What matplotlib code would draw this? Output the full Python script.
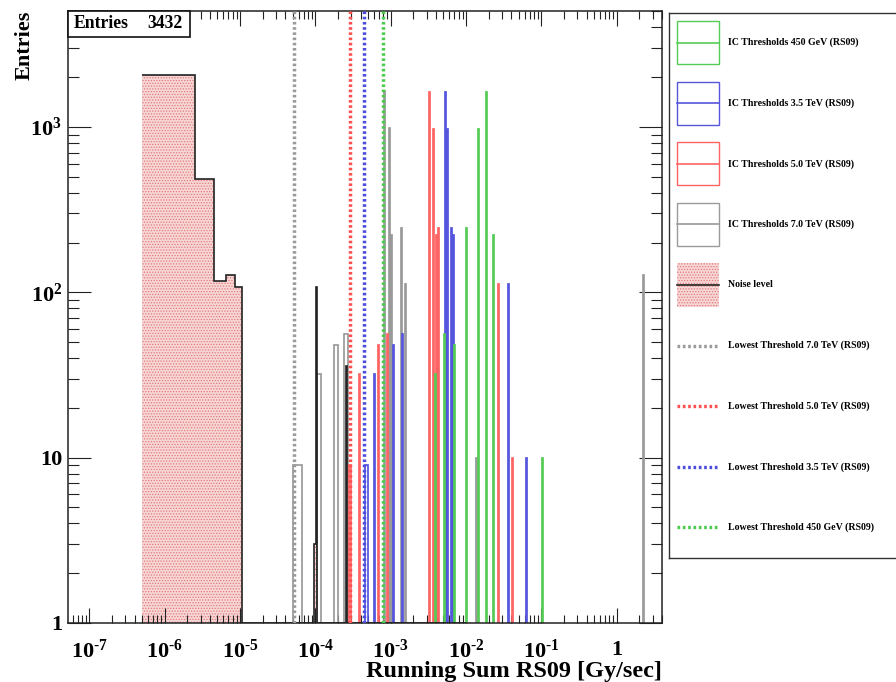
import numpy as np
import matplotlib
matplotlib.use("Agg")
import matplotlib.pyplot as plt
from matplotlib.patches import Rectangle
from matplotlib.ticker import FixedLocator, FixedFormatter, LogLocator, NullFormatter

plt.rcParams['font.family'] = ['Liberation Serif', 'DejaVu Serif']
plt.rcParams['font.weight'] = 'bold'
plt.rcParams['mathtext.fontset'] = 'custom'
plt.rcParams['mathtext.rm'] = 'Liberation Serif:bold'
plt.rcParams['mathtext.it'] = 'Liberation Serif:bold:italic'
plt.rcParams['mathtext.bf'] = 'Liberation Serif:bold'
plt.rcParams['hatch.linewidth'] = 0.6

# ---------------- data ----------------
# noise level histogram (bin low edge, bin high edge, entries)
noise_lo = [5.0e-7, 2.5e-6, 4.5e-6, 6.5e-6, 8.5e-6, 9.7e-5, 1.03e-4, 2.52e-4]
noise_hi = [2.5e-6, 4.5e-6, 6.5e-6, 8.5e-6, 1.05e-5, 1.03e-4, 1.05e-4, 2.62e-4]
noise_n = [2050, 483, 117, 127, 107, 3, 108, 36]
noise_xmax = 1.0e-2
noise_entries = 3432

# IC threshold histograms
ic450_lo = [3.828e-3, 5.165e-3, 6.950e-3, 1.012e-2, 1.439e-2, 1.861e-2, 2.305e-2, 0.1031]
ic450_hi = [3.947e-3, 5.326e-3, 7.165e-3, 1.044e-2, 1.484e-2, 1.918e-2, 2.375e-2, 0.1063]
ic450_n = [32, 56, 48, 246, 970, 1620, 222, 10]

ic35_lo = [4.571e-4, 6.017e-4, 1.083e-3, 1.404e-3, 5.326e-3, 5.662e-3, 6.282e-3, 6.637e-3,
           3.600e-2, 6.322e-2]
ic35_hi = [4.933e-4, 6.204e-4, 1.116e-3, 1.448e-3, 5.492e-3, 5.838e-3, 6.478e-3, 6.843e-3,
           3.712e-2, 6.518e-2]
ic35_n = [9, 32, 48, 56, 1620, 970, 246, 222, 112, 10]

ic50_lo = [2.760e-4, 3.805e-4, 6.823e-4, 9.011e-4, 3.265e-3, 3.634e-3, 4.020e-3, 4.196e-3,
           2.652e-2, 4.118e-2]
ic50_hi = [2.979e-4, 3.923e-4, 7.035e-4, 9.292e-4, 3.366e-3, 3.747e-3, 4.145e-3, 4.326e-3,
           2.734e-2, 4.246e-2]
ic50_n = [9, 32, 48, 56, 1620, 970, 222, 246, 112, 10]

ic70_lo = [5.1e-5, 1.06e-4, 1.78e-4, 2.42e-4, 8.123e-4, 9.436e-4, 1.019e-3, 1.353e-3,
           1.553e-3, 1.370e-2, 2.262]
ic70_hi = [6.6e-5, 1.20e-4, 2.00e-4, 2.69e-4, 8.375e-4, 9.727e-4, 1.050e-3, 1.395e-3,
           1.601e-3, 1.413e-2, 2.333]
ic70_n = [9, 32, 48, 56, 1640, 985, 222, 246, 112, 10, 127]

# lowest thresholds [Gy/sec]
lowest_thr = [5.15e-5, 2.84e-4, 4.42e-4, 7.85e-4]

x_ticks = [1e-7, 1e-6, 1e-5, 1e-4, 1e-3, 1e-2, 1e-1, 1]
x_tick_labels = [r'$10^{\text{-}7}$', r'$10^{\text{-}6}$', r'$10^{\text{-}5}$',
                 r'$10^{\text{-}4}$', r'$10^{\text{-}3}$', r'$10^{\text{-}2}$',
                 r'$10^{\text{-}1}$', '1']
y_ticks = [1, 10, 100, 1000]
y_tick_labels = ['1', '10', '$10^{2}$', '$10^{3}$']

legend_labels = ['IC Thresholds 450 GeV (RS09)', 'IC Thresholds 3.5 TeV (RS09)',
                 'IC Thresholds 5.0 TeV (RS09)', 'IC Thresholds 7.0 TeV (RS09)',
                 'Noise level',
                 'Lowest Threshold 7.0 TeV (RS09)', 'Lowest Threshold 5.0 TeV (RS09)',
                 'Lowest Threshold 3.5 TeV (RS09)', 'Lowest Threshold 450 GeV (RS09)']

# ---------------- style ----------------
C_GREEN = '#55cc55'
C_BLUE = '#5555dd'
C_RED = '#ff6464'
C_GRAY = '#9a9a9a'
C_FILL = '#f7d6d6'
C_HATCH = '#e27a7a'


def outline(lo, hi, n):
    """Step outline of separate bins, with empty bins between them."""
    order = np.argsort(lo)
    edges = [lo[order[0]]]
    vals = []
    for k, i in enumerate(order):
        if k > 0 and lo[i] > edges[-1]:
            vals.append(0)
            edges.append(lo[i])
        vals.append(n[i])
        edges.append(hi[i])
    return np.array(vals, float), np.array(edges, float)


W, H = 896, 682
fig = plt.figure(figsize=(W / 100, H / 100), dpi=100)
ax = fig.add_axes([68 / W, (H - 623) / H, 594 / W, 612 / H])
ax.set_xscale('log')
ax.set_yscale('log', nonpositive='clip')
YMIN, YMAX = 1, 5030

# noise level: hatched fill + black outline
nv, ne = outline(noise_lo, noise_hi, noise_n)
ax.stairs(nv, ne, baseline=YMIN, fill=True, facecolor=C_FILL, edgecolor=C_HATCH,
          hatch='......', linewidth=0, zorder=1)
nv_line = np.append(nv, 0)
ne_line = np.append(ne, noise_xmax)
ax.stairs(np.maximum(nv_line, YMIN), ne_line, baseline=None, color='#222222',
          linewidth=1.2, zorder=2.2)

# IC threshold histograms
for lo, hi, n, c in [(ic70_lo, ic70_hi, ic70_n, C_GRAY),
                     (ic50_lo, ic50_hi, ic50_n, C_RED),
                     (ic35_lo, ic35_hi, ic35_n, C_BLUE),
                     (ic450_lo, ic450_hi, ic450_n, C_GREEN)]:
    v, e = outline(lo, hi, n)
    ax.stairs(v, e, baseline=0, color=c, linewidth=1.25, zorder=2)

# lowest thresholds
for x, c in zip(lowest_thr, [C_GRAY, '#ff5050', '#4c4cdd', '#4ccc4c']):
    ax.axvline(x, color=c, linewidth=2.5, dashes=(0.75, 0.75), zorder=3)

ax.set_xlim(5.2e-8, 4.0)
ax.set_ylim(YMIN, YMAX)

ax.xaxis.set_major_locator(FixedLocator(x_ticks))
ax.xaxis.set_major_formatter(FixedFormatter(x_tick_labels))
ax.xaxis.set_minor_locator(LogLocator(base=10, subs=np.arange(2, 10), numticks=100))
ax.xaxis.set_minor_formatter(NullFormatter())
ax.yaxis.set_major_locator(FixedLocator(y_ticks))
ax.yaxis.set_major_formatter(FixedFormatter(y_tick_labels))
ax.yaxis.set_minor_locator(LogLocator(base=10, subs=np.arange(2, 10), numticks=100))
ax.yaxis.set_minor_formatter(NullFormatter())

ax.tick_params(which='both', direction='in', top=True, right=True, width=0.8, color='#222222')
ax.tick_params(axis='x', which='major', length=10.8, pad=12, labelsize=16)
ax.tick_params(axis='x', which='minor', length=5.8)
ax.tick_params(axis='y', which='major', length=16.3, pad=4.3, labelsize=16)
ax.tick_params(axis='y', which='minor', length=7.9)
for s in ax.spines.values():
    s.set_linewidth(1.1)
    s.set_color('#222222')

ax.set_xlabel('Running Sum RS09 [Gy/sec]', loc='right', fontsize=17.5, fontweight='bold')
ax.xaxis.set_label_coords(1.0, -0.062)
ax.set_ylabel('Entries', loc='top', fontsize=16, fontweight='bold')
ax.yaxis.set_label_coords(-0.056, 1.0)

# statistics box
ax.add_patch(Rectangle((0, 0.9575), 0.2054, 0.0425, transform=ax.transAxes,
                       facecolor='white', edgecolor='#111111', linewidth=1.2,
                       zorder=6, clip_on=False))
ax.text(0.0101, 0.979, 'Entries', transform=ax.transAxes, ha='left', va='center',
        fontsize=12.7, fontweight='bold', zorder=7)
ax.text(0.1936, 0.979, f'{noise_entries}', transform=ax.transAxes, ha='right',
        va='center', fontsize=12.7, fontweight='bold', zorder=7)

# legend panel
lax = fig.add_axes([669 / W, (H - 558) / H, 241 / W, 545 / H])
lax.set_xlim(0, 241)
lax.set_ylim(545, 0)
lax.set_xticks([])
lax.set_yticks([])
for s in lax.spines.values():
    s.set_linewidth(1.0)
    s.set_color('#333333')

box_colors = [C_GREEN, C_BLUE, C_RED, C_GRAY]
dot_colors = [C_GRAY, '#ff5050', '#4c4cdd', '#4ccc4c']
x0, x1, xt = 8, 50, 59
for i, lab in enumerate(legend_labels):
    yc = 29.5 + 60.6 * i
    if i < 4:
        lax.add_patch(Rectangle((x0, yc - 21.5), x1 - x0, 43, facecolor='none',
                                edgecolor=box_colors[i], linewidth=1.0))
        lax.plot([x0, x1], [yc, yc], color=box_colors[i], linewidth=1.2)
    elif i == 4:
        lax.add_patch(Rectangle((x0, yc - 22), x1 - x0, 44, facecolor=C_FILL,
                                edgecolor=C_HATCH, hatch='......', linewidth=0))
        lax.plot([x0, x1], [yc, yc], color='#222222', linewidth=1.2)
    else:
        lax.plot([x0, x1 - 2], [yc, yc], color=dot_colors[i - 5], linewidth=2.4,
                 dashes=(0.8, 0.8))
    lax.text(xt, yc, lab, ha='left', va='center', fontsize=7.1, fontweight='bold')

fig.savefig('out.png', dpi=100)
